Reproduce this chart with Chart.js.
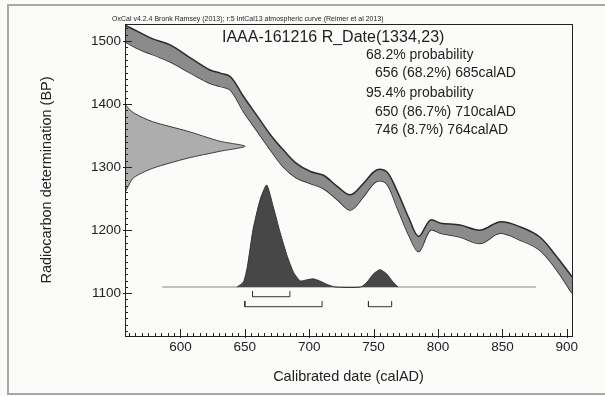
<!DOCTYPE html>
<html>
<head>
<meta charset="utf-8">
<script src="https://cdn.jsdelivr.net/npm/chart.js@4.4.1/dist/chart.umd.min.js"></script>
<style>
  html, body { margin: 0; padding: 0; background: #fbfbfa; }
  #wrap { width: 605px; height: 396px; }
</style>
</head>
<body>
<div id="wrap"><canvas id="grafico" width="605" height="396"></canvas></div>
<script>
// IntCal13 curve band (calAD / BP)
const curveAD    = [557, 569, 579, 592, 608, 623, 631, 639, 649, 660, 670, 680, 690, 701, 711, 722, 732, 742, 752, 760, 768, 778, 785, 794, 802, 817, 833, 848, 864, 879, 892, 904];
const curveUpper = [1525, 1513, 1503, 1494, 1473, 1454, 1449, 1443, 1412, 1380, 1351, 1327, 1306, 1293, 1287, 1269, 1256, 1274, 1295, 1293, 1263, 1216, 1190, 1216, 1211, 1208, 1200, 1213, 1205, 1189, 1158, 1126];
const curveLower = [1499, 1486, 1478, 1467, 1449, 1433, 1428, 1422, 1388, 1356, 1327, 1300, 1283, 1274, 1266, 1248, 1232, 1253, 1277, 1274, 1237, 1189, 1166, 1200, 1195, 1189, 1179, 1195, 1184, 1168, 1137, 1100];

// R_Date(1334,23) on the BP axis, relative density
const rcBP   = [1260, 1267, 1283, 1298, 1314, 1325, 1333, 1341, 1357, 1372, 1385, 1394, 1400];
const rcDens = [0, 2, 7, 23, 52, 79, 100, 79, 52, 23, 8, 2.5, 0];

// calibrated distribution, relative density
const calAD   = [644, 649, 652, 656.5, 662, 667, 672, 677.5, 683, 688, 693, 698, 703, 708, 714, 720, 740, 745, 750, 755, 760, 765, 769];
const calDens = [0, 5, 20, 57, 86, 100, 79, 53, 30, 14, 6, 7, 8, 6, 2.5, 0, 0, 5, 13, 17, 13, 5, 0];
const baseAD  = [586, 876];

// ranges
const range68 = [[656, 685]];
const range95 = [[650, 710], [746, 764]];

const xTicks = [600, 650, 700, 750, 800, 850, 900];
const yTicks = [1100, 1200, 1300, 1400, 1500];

const header = "OxCal v4.2.4 Bronk Ramsey (2013); r:5 IntCal13 atmospheric curve (Reimer et al 2013)";
const titulo = "IAAA-161216 R_Date(1334,23)";
const probLines = [
  ["68.2% probability", 0],
  ["656 (68.2%) 685calAD", 1],
  ["95.4% probability", 0],
  ["650 (86.7%) 710calAD", 1],
  ["746 (8.7%) 764calAD", 1]
];

const fonte = "'Liberation Sans', Arial, sans-serif";

function bracket(r, top, bottom) {
  return [{x: r[0], y: top}, {x: r[0], y: bottom}, {x: r[1], y: bottom}, {x: r[1], y: top}];
}

const datasets = [
  {
    data: curveAD.map((x, i) => ({x, y: curveLower[i]})),
    borderColor: "#2a2a2a", borderWidth: 1.5, pointRadius: 0, tension: 0.35, fill: false, order: 2
  },
  {
    data: curveAD.map((x, i) => ({x, y: curveUpper[i]})),
    borderColor: "#2a2a2a", borderWidth: 1.5, pointRadius: 0, tension: 0.35,
    fill: "-1", backgroundColor: "#8b8b8b", order: 1
  },
  {
    indexAxis: "y", xAxisID: "xd", yAxisID: "y",
    data: rcBP.map((y, i) => ({x: rcDens[i], y})),
    borderColor: "#3a3a3a", borderWidth: 1, pointRadius: 0, tension: 0.25,
    fill: "origin", backgroundColor: "#adadad", order: 3
  },
  {
    xAxisID: "x", yAxisID: "yd",
    data: baseAD.map(x => ({x, y: 0})),
    borderColor: "#8a8a8a", borderWidth: 1, pointRadius: 0, fill: false, order: 5
  },
  {
    xAxisID: "x", yAxisID: "yd",
    data: calAD.map((x, i) => ({x, y: calDens[i]})),
    borderColor: "#333", borderWidth: 1, pointRadius: 0, tension: 0.2,
    fill: "origin", backgroundColor: "#474747", order: 4
  }
];
range68.forEach(r => datasets.push({
  xAxisID: "x", yAxisID: "yd", data: bracket(r, -4, -9.5),
  borderColor: "#333", borderWidth: 1, pointRadius: 0, fill: false, order: 0
}));
range95.forEach(r => datasets.push({
  xAxisID: "x", yAxisID: "yd", data: bracket(r, -13.7, -19.3),
  borderColor: "#333", borderWidth: 1, pointRadius: 0, fill: false, order: 0
}));

const moldura = {
  id: "moldura",
  beforeDraw(chart) {
    const ctx = chart.ctx;
    ctx.save();
    ctx.fillStyle = "#fbfbfa";
    ctx.fillRect(0, 0, chart.width, chart.height);
    ctx.strokeStyle = "#a8a8a8";
    ctx.lineWidth = 2;
    ctx.beginPath();
    ctx.moveTo(605, 5); ctx.lineTo(8, 5); ctx.lineTo(8, 394); ctx.lineTo(605, 394);
    ctx.stroke();
    ctx.restore();
  },
  afterDraw(chart) {
    const {ctx, chartArea: a, scales} = chart;
    ctx.save();
    ctx.strokeStyle = "#222";
    ctx.lineWidth = 1;
    ctx.strokeRect(a.left + 0.5, a.top + 0.5, a.right - a.left, a.bottom - a.top);
    // marcas para dentro
    ctx.beginPath();
    for (let v = 560; v <= 900; v += 5) {
      const px = Math.round(scales.x.getPixelForValue(v)) + 0.5;
      const big = v % 50 === 0;
      ctx.moveTo(px, a.bottom + (big ? 2 : 0));
      ctx.lineTo(px, a.bottom - (big ? 7 : 3));
    }
    for (let v = 1040; v <= 1520; v += 10) {
      const py = Math.round(scales.y.getPixelForValue(v)) + 0.5;
      const big = v % 100 === 0;
      ctx.moveTo(a.left - (big ? 2 : 0), py);
      ctx.lineTo(a.left + (big ? 7 : 3), py);
    }
    ctx.stroke();
    // textos
    ctx.fillStyle = "#1e1e1e";
    ctx.textBaseline = "middle";
    ctx.textAlign = "left";
    ctx.font = "7px " + fonte;
    ctx.fillText(header, 112, 19);
    ctx.font = "16px " + fonte;
    ctx.fillText(titulo, 222, 38);
    ctx.font = "14px " + fonte;
    const ys = [55, 73, 93, 112, 130];
    probLines.forEach((p, i) => ctx.fillText(p[0], p[1] ? 375 : 366, ys[i]));
    ctx.restore();
  }
};

new Chart(document.getElementById("grafico"), {
  type: "line",
  data: { datasets },
  options: {
    responsive: false,
    animation: false,
    layout: { padding: { top: 24, right: 33, left: 0, bottom: 0 } },
    plugins: { legend: { display: false }, tooltip: { enabled: false } },
    scales: {
      x: {
        type: "linear", min: 557, max: 904,
        afterBuildTicks: s => { s.ticks = xTicks.map(v => ({value: v})); },
        afterFit: s => { s.height = 60; },
        grid: { display: false, drawTicks: false },
        border: { display: true, color: "#222" },
        ticks: { color: "#222", font: { size: 13.5, family: fonte }, padding: 3, callback: v => String(v), maxRotation: 0 },
        title: { display: true, text: "Calibrated date (calAD)", color: "#222", font: { size: 14.5, family: fonte }, padding: { bottom: 10 } }
      },
      y: {
        type: "linear", min: 1032, max: 1527,
        afterBuildTicks: s => { s.ticks = yTicks.map(v => ({value: v})); },
        afterFit: s => { s.width = 125; },
        grid: { display: false, drawTicks: false },
        border: { display: true, color: "#222" },
        ticks: { color: "#222", font: { size: 13.5, family: fonte }, padding: 4, callback: v => String(v) },
        title: { display: true, text: "Radiocarbon determination (BP)", color: "#222", font: { size: 14.5, family: fonte }, padding: { top: 38 } }
      },
      xd: { type: "linear", display: false, min: 0, max: 372.5 },
      yd: { type: "linear", display: false, min: -48, max: 257.8 }
    }
  },
  plugins: [moldura]
});
</script>
</body>
</html>
